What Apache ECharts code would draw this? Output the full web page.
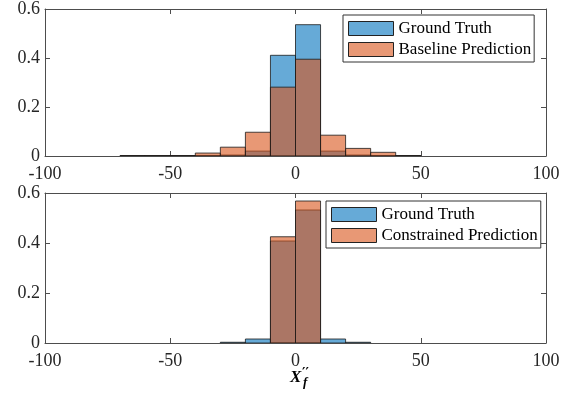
<!DOCTYPE html>
<html><head><meta charset="utf-8">
<script src="https://cdn.jsdelivr.net/npm/echarts@6/dist/echarts.min.js"></script>
<style>html,body{margin:0;padding:0;background:#fff}#c{width:574px;height:398px}</style>
</head><body><div id="c"></div>
<script>
// bin edges (left edge of each 10-wide bin)
const binLeft = [-100,-90,-80,-70,-60,-50,-40,-30,-20,-10,0,10,20,30,40,50,60,70,80,90];
const binWidth = 10;
// top panel
const gtTop       = [0,0,0,0.001,0.001,0.001,0.002,0.004,0.02,0.411,0.536,0.02,0.004,0.002,0.001,0,0,0,0,0];
const baselineTop = [0,0,0,0.002,0.002,0.002,0.012,0.036,0.097,0.281,0.395,0.085,0.031,0.015,0.002,0,0,0,0,0];
// bottom panel
const gtBot          = [0,0,0,0,0,0,0,0.003,0.016,0.408,0.532,0.016,0.003,0,0,0,0,0,0,0];
const constrainedBot = [0,0,0,0,0,0,0,0,0,0.425,0.568,0,0,0,0,0,0,0,0,0];
const xTicks = [-100,-50,0,50,100];
const yTicks = [0,0.2,0.4,0.6];

const BLUE = 'rgba(0,114,189,0.6)';
const ORANGE = 'rgba(217,83,25,0.6)';
const FONT = 'Liberation Serif';
const AX = '#4d4d4d';

function toData(vals){ return binLeft.map((b,i)=>[b, b+binWidth, vals[i]]); }
function renderItem(params, api){
  const v = api.value(2);
  if (!v) return null;
  const p0 = api.coord([api.value(0), 0]);
  const p1 = api.coord([api.value(1), v]);
  return {type:'rect', shape:{x:p0[0], y:p1[1], width:p1[0]-p0[0], height:p0[1]-p1[1]},
    style:{fill: api.visual('color'), stroke:'#1a1a1a', lineWidth:0.8}};
}
function hist(name, vals, color, idx){
  return {type:'custom', name, renderItem, data: toData(vals), xAxisIndex: idx*2, yAxisIndex: idx*2,
    encode:{x:[0,1], y:2}, itemStyle:{color}, clip:true};
}
function xAxes(gi){
  return [
    {type:'value', gridIndex:gi, min:-100, max:100, interval:50, position:'bottom',
     axisLine:{show:true, onZero:false, lineStyle:{color:AX, width:1}},
     axisTick:{show:true, inside:true, length:5, lineStyle:{color:AX}},
     axisLabel:{fontFamily:FONT, fontSize:18, color:'#262626', margin:9,
       formatter:v=>xTicks.includes(v)?String(v):''}, splitLine:{show:false}},
    {type:'value', gridIndex:gi, min:-100, max:100, interval:50, position:'top',
     axisLine:{show:true, onZero:false, lineStyle:{color:AX, width:1}},
     axisTick:{show:true, inside:true, length:5, lineStyle:{color:AX}},
     axisLabel:{show:false}, splitLine:{show:false}}
  ];
}
function yAxes(gi){
  return [
    {type:'value', gridIndex:gi, min:0, max:0.6, interval:0.2, position:'left',
     axisLine:{show:true, onZero:false, lineStyle:{color:AX, width:1}},
     axisTick:{show:true, inside:true, length:5, lineStyle:{color:AX}},
     axisLabel:{fontFamily:FONT, fontSize:18, color:'#262626', margin:5,
       formatter:v=>String(yTicks.find(t=>Math.abs(t-v)<1e-9) ?? '')}, splitLine:{show:false}},
    {type:'value', gridIndex:gi, min:0, max:0.6, interval:0.2, position:'right',
     axisLine:{show:true, onZero:false, lineStyle:{color:AX, width:1}},
     axisTick:{show:true, inside:true, length:5, lineStyle:{color:AX}},
     axisLabel:{show:false}, splitLine:{show:false}}
  ];
}
function legend(left, top, names){
  return {orient:'vertical', left, top, padding:[5,3,4,5], itemGap:4, itemWidth:45, itemHeight:14,
    backgroundColor:'#fff', borderColor:'#333', borderWidth:1, borderRadius:0, selectedMode:false,
    textStyle:{fontFamily:FONT, fontSize:17, color:'#000', lineHeight:15},
    data: names.map(n=>({name:n.name, icon:'rect', itemStyle:{color:n.color, borderColor:'#222', borderWidth:1}}))};
}

const chart = echarts.init(document.getElementById('c'), null, {renderer:'canvas'});
chart.setOption({
  animation:false,
  backgroundColor:'#fff',
  grid:[{left:45, right:28, top:6, height:150}, {left:45, right:28, top:193, height:150}],
  xAxis:[...xAxes(0), ...xAxes(1)],
  yAxis:[...yAxes(0), ...yAxes(1)],
  legend:[
    legend(343, 15, [{name:'Ground Truth', color:BLUE},{name:'Baseline Prediction', color:ORANGE}]),
    legend(326, 201, [{name:'Ground Truth', color:BLUE},{name:'Constrained Prediction', color:ORANGE}])
  ],
  series:[
    hist('Ground Truth', gtTop, BLUE, 0),
    hist('Baseline Prediction', baselineTop, ORANGE, 0),
    hist('Ground Truth', gtBot, BLUE, 1),
    hist('Constrained Prediction', constrainedBot, ORANGE, 1)
  ],
  graphic:[
    {type:'text', left:290, top:369, style:{text:'X', font:'bold italic 17px "Liberation Serif"', fill:'#000'}},
    {type:'text', left:302, top:367, style:{text:'\u2032\u2032', font:'bold 13px "DejaVu Serif"', fill:'#000'}},
    {type:'text', left:303, top:376, style:{text:'f', font:'bold italic 13px "Liberation Serif"', fill:'#000'}}
  ]
});
</script></body></html>
